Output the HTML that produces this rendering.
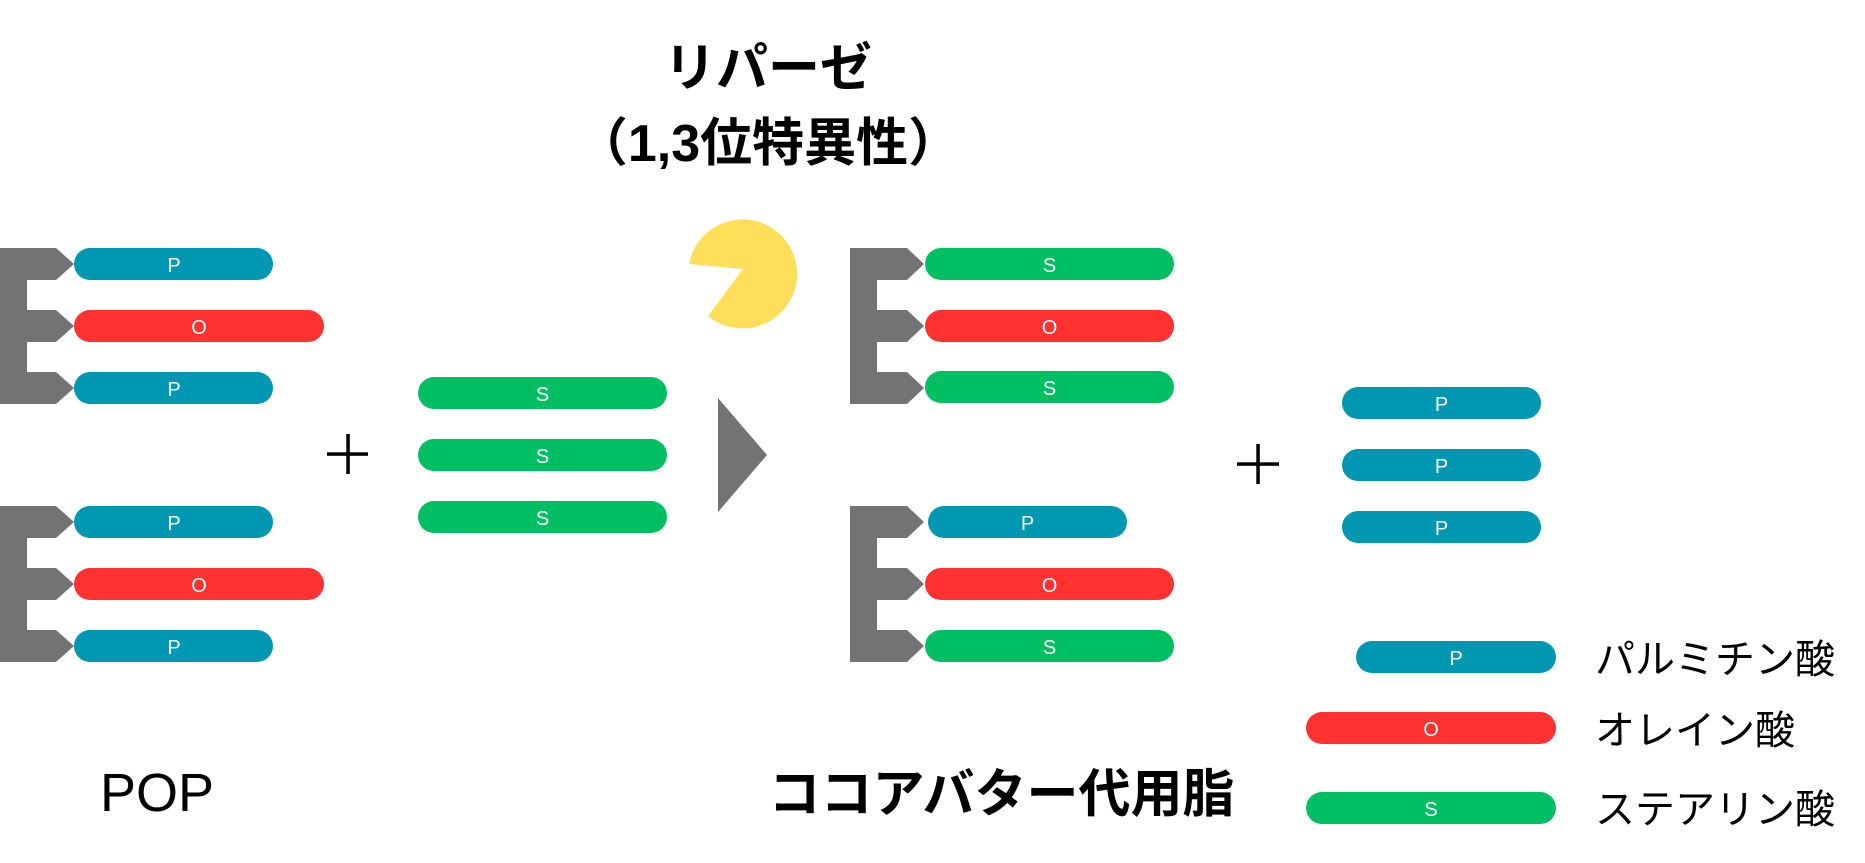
<!DOCTYPE html>
<html>
<head>
<meta charset="utf-8">
<style>
html,body{margin:0;padding:0;background:#fff;}
svg{display:block;}
.pl{font-family:"Liberation Sans",sans-serif;font-size:20px;fill:#fff;text-anchor:middle;}
.jb{font-family:"Liberation Sans","Noto Sans CJK JP",sans-serif;font-weight:bold;fill:#000;}
.jr{font-family:"Liberation Sans","Noto Sans CJK JP",sans-serif;fill:#000;}
</style>
</head>
<body>
<svg width="1865" height="863" viewBox="0 0 1865 863" xmlns="http://www.w3.org/2000/svg">
<rect width="1865" height="863" fill="#fff"/>

<!-- Title -->
<text class="jb" x="768" y="86" font-size="52" text-anchor="middle">リパーゼ</text>
<text class="jb" x="768" y="161" font-size="52" text-anchor="middle">（1,3位特異性）</text>

<!-- Pacman -->
<path d="M743 269 L689 264 A54.5 54.5 0 1 1 708 316 Z" fill="#FFDE59"/>

<!-- Group A backbone -->
<path d="M0 248 L56 248 L74 264 L56 280 L27 280 L27 310 L56 310 L74 326 L56 342 L27 342 L27 372 L56 372 L74 388 L56 404 L0 404 Z" fill="#737373"/>
<rect x="74" y="248" width="199" height="32" rx="16" fill="#0097B2"/>
<text class="pl" x="174" y="272">P</text>
<rect x="74" y="310" width="250" height="32" rx="16" fill="#FF3131"/>
<text class="pl" x="199" y="334">O</text>
<rect x="74" y="372" width="199" height="32" rx="16" fill="#0097B2"/>
<text class="pl" x="174" y="396">P</text>

<!-- Group B backbone -->
<path d="M0 506 L56 506 L74 522 L56 538 L27 538 L27 568 L56 568 L74 584 L56 600 L27 600 L27 630 L56 630 L74 646 L56 662 L0 662 Z" fill="#737373"/>
<rect x="74" y="506" width="199" height="32" rx="16" fill="#0097B2"/>
<text class="pl" x="174" y="530">P</text>
<rect x="74" y="568" width="250" height="32" rx="16" fill="#FF3131"/>
<text class="pl" x="199" y="592">O</text>
<rect x="74" y="630" width="199" height="32" rx="16" fill="#0097B2"/>
<text class="pl" x="174" y="654">P</text>

<!-- Plus 1 -->
<rect x="327" y="452.3" width="41" height="3.5" fill="#000"/>
<rect x="346.3" y="434" width="3.5" height="40" fill="#000"/>

<!-- S pills middle -->
<rect x="418" y="377" width="249" height="32" rx="16" fill="#00BF63"/>
<text class="pl" x="542.5" y="401">S</text>
<rect x="418" y="439" width="249" height="32" rx="16" fill="#00BF63"/>
<text class="pl" x="542.5" y="463">S</text>
<rect x="418" y="501" width="249" height="32" rx="16" fill="#00BF63"/>
<text class="pl" x="542.5" y="525">S</text>

<!-- Arrow triangle -->
<path d="M718 398 L767 455 L718 512 Z" fill="#737373"/>

<!-- Group C -->
<path d="M850 248 L907 248 L924 264 L907 280 L877 280 L877 310 L907 310 L924 326 L907 342 L877 342 L877 372 L907 372 L924 388 L907 404 L850 404 Z" fill="#737373"/>
<rect x="925" y="248" width="249" height="32" rx="16" fill="#00BF63"/>
<text class="pl" x="1049.5" y="272">S</text>
<rect x="925" y="310" width="249" height="32" rx="16" fill="#FF3131"/>
<text class="pl" x="1049.5" y="334">O</text>
<rect x="925" y="371" width="249" height="32" rx="16" fill="#00BF63"/>
<text class="pl" x="1049.5" y="395">S</text>

<!-- Group D -->
<path d="M850 506 L907 506 L924 522 L907 538 L877 538 L877 568 L907 568 L924 584 L907 600 L877 600 L877 630 L907 630 L924 646 L907 662 L850 662 Z" fill="#737373"/>
<rect x="928" y="506" width="199" height="32" rx="16" fill="#0097B2"/>
<text class="pl" x="1027.5" y="530">P</text>
<rect x="925" y="568" width="249" height="32" rx="16" fill="#FF3131"/>
<text class="pl" x="1049.5" y="592">O</text>
<rect x="925" y="630" width="249" height="32" rx="16" fill="#00BF63"/>
<text class="pl" x="1049.5" y="654">S</text>

<!-- Plus 2 -->
<rect x="1237" y="462.3" width="42" height="3.5" fill="#000"/>
<rect x="1256.3" y="444" width="3.5" height="40" fill="#000"/>

<!-- Released P pills -->
<rect x="1342" y="387" width="199" height="32" rx="16" fill="#0097B2"/>
<text class="pl" x="1441.5" y="411">P</text>
<rect x="1342" y="449" width="199" height="32" rx="16" fill="#0097B2"/>
<text class="pl" x="1441.5" y="473">P</text>
<rect x="1342" y="511" width="199" height="32" rx="16" fill="#0097B2"/>
<text class="pl" x="1441.5" y="535">P</text>

<!-- Legend -->
<rect x="1356" y="641" width="200" height="32" rx="16" fill="#0097B2"/>
<text class="pl" x="1456" y="665">P</text>
<rect x="1306" y="712" width="250" height="32" rx="16" fill="#FF3131"/>
<text class="pl" x="1431" y="736">O</text>
<rect x="1306" y="792" width="250" height="32" rx="16" fill="#00BF63"/>
<text class="pl" x="1431" y="816">S</text>

<text class="jr" x="1595" y="673" font-size="40">パルミチン酸</text>
<text class="jr" x="1595" y="744" font-size="40">オレイン酸</text>
<text class="jr" x="1595" y="823" font-size="40">ステアリン酸</text>

<!-- Bottom labels -->
<text x="100" y="811" font-family="Liberation Sans, sans-serif" font-size="54" fill="#000">POP</text>
<text class="jb" x="1001.5" y="812" font-size="52" text-anchor="middle">ココアバター代用脂</text>
</svg>
</body>
</html>
